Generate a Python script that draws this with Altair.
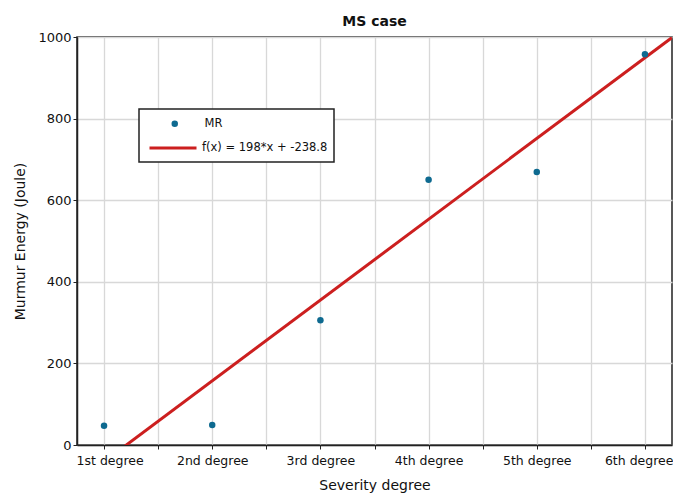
import altair as alt
import pandas as pd

# ---- data ----
degree_labels = ["1st degree", "2nd degree", "3rd degree", "4th degree", "5th degree", "6th degree"]
severity = [1, 2, 3, 4, 5, 6]
energy = [47, 49, 306, 650, 669, 958]

fit_slope = 198.0
fit_intercept = -238.8
fit_label = "f(x) = 198*x + -238.8"
x_extent = [0.75, 6.25]

x_grid_values = [1, 1.5, 2, 2.5, 3, 3.5, 4, 4.5, 5, 5.5, 6]
y_tick_values = [0, 200, 400, 600, 800, 1000]

FONT = "DejaVu Sans"
POINT_COLOR = "#0e6a90"
LINE_COLOR = "#cc1f1f"

pts = pd.DataFrame({"x": severity, "y": energy, "series": ["MR"] * len(severity)})
fit = pd.DataFrame({"x": x_extent, "series": [fit_label] * len(x_extent)})

label_js = "[" + ",".join("'" + s + "'" for s in degree_labels) + "]"

x_scale = alt.Scale(domain=x_extent, nice=False, zero=False)
y_scale = alt.Scale(domain=[0, 1000], nice=False)

x_axis = alt.Axis(
    values=x_grid_values,
    labelExpr=f"datum.value % 1 == 0 ? {label_js}[datum.value - 1] : ''",
    title="Severity degree",
    grid=True,
    labelFlush=40,
    labelFlushOffset=28,
    labelFontSize=12.5,
    labelPadding=5,
    titlePadding=12,
)
y_axis = alt.Axis(
    values=y_tick_values,
    format="d",
    title="Murmur Energy (Joule)",
    grid=True,
    titlePadding=10,
)

points = alt.Chart(pts).mark_point(filled=True, size=42, opacity=1).encode(
    x=alt.X("x:Q", scale=x_scale, axis=x_axis),
    y=alt.Y("y:Q", scale=y_scale, axis=y_axis),
    fill=alt.Fill(
        "series:N",
        scale=alt.Scale(domain=["MR"], range=[POINT_COLOR]),
        legend=alt.Legend(
            orient="none", legendX=92, legendY=81, title=None, padding=0,
            symbolType="circle", symbolSize=42, labelOffset=24,
            labelFontSize=11.5, labelFont=FONT, labelColor="#111111",
            symbolStrokeWidth=0,
        ),
    ),
)

line = alt.Chart(fit).transform_calculate(
    y=f"{fit_slope} * datum.x + ({fit_intercept})"
).mark_line(strokeWidth=3, clip=True).encode(
    x=alt.X("x:Q", scale=x_scale),
    y=alt.Y("y:Q", scale=y_scale),
    stroke=alt.Stroke(
        "series:N",
        scale=alt.Scale(domain=[fit_label], range=[LINE_COLOR]),
        legend=alt.Legend(
            orient="none", legendX=71, legendY=86, title=None, padding=0,
            symbolType="stroke", symbolSize=2209, symbolStrokeWidth=3,
            labelOffset=4, labelFontSize=11.5, labelFont=FONT, labelColor="#111111",
        ),
    ),
)

legend_box = alt.Chart(pd.DataFrame({"k": [0]})).mark_rect(
    fill="white", stroke="#222222", strokeWidth=1.5
).encode(
    x=alt.value(62), x2=alt.value(257), y=alt.value(72), y2=alt.value(125)
)

chart = alt.layer(legend_box, line, points).resolve_scale(
    fill="independent", stroke="independent"
).properties(
    width=595,
    height=408,
    title=alt.TitleParams("MS case", fontSize=14, font=FONT, fontWeight="bold", offset=2, color="#111111"),
    autosize=alt.AutoSizeParams(type="none"),
    padding={"left": 69, "top": 29, "right": 1, "bottom": 51},
).configure_view(
    stroke="#222222", strokeWidth=1.5
).configure_axis(
    labelFont=FONT, titleFont=FONT, labelFontSize=13, titleFontSize=14,
    labelColor="#111111", titleColor="#111111", titleFontWeight="normal",
    gridColor="#d8d8d8", gridWidth=1.3, domainColor="#222222", domainWidth=1.5,
    tickColor="#222222", tickSize=4,
)

chart.save("out.html", embed_options={"renderer": "svg", "actions": False})
